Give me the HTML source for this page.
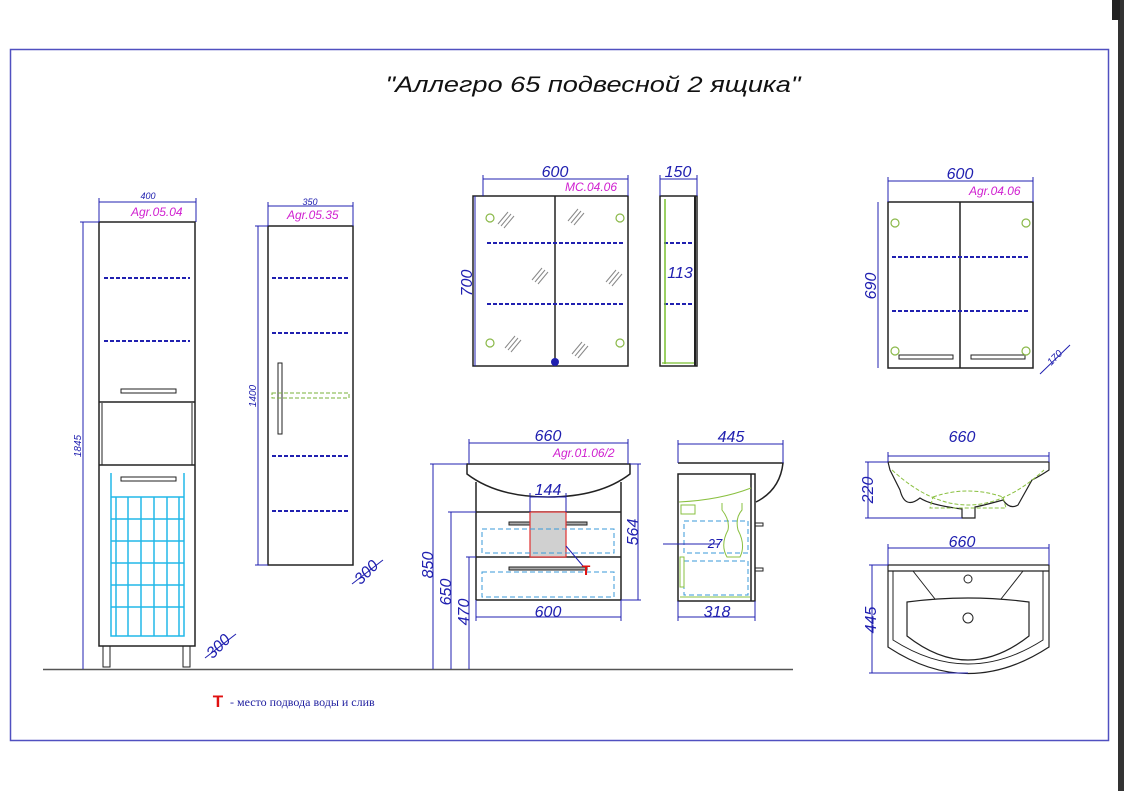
<!DOCTYPE html>
<html><head><meta charset="utf-8"><style>
html,body{margin:0;padding:0;background:#fff;}
svg{display:block;}
text{font-family:"Liberation Sans",sans-serif;font-style:italic;}
text.n{font-style:normal;}
</style></head><body>
<svg width="1124" height="791" viewBox="0 0 1124 791" xmlns="http://www.w3.org/2000/svg">
<rect x="0" y="0" width="1124" height="791" fill="#fff"/>
<rect x="1118" y="0" width="6" height="791" fill="#333"/>
<rect x="1112" y="0" width="8" height="20" fill="#222"/>
<rect x="10.5" y="49.5" width="1098" height="691" fill="none" stroke="#5050c0" stroke-width="1.5"/>
<text x="593" y="92" font-size="22" text-anchor="middle" textLength="415" lengthAdjust="spacingAndGlyphs" fill="#111">"Аллегро 65 подвесной 2 ящика"</text>

<line x1="43" y1="669.5" x2="793" y2="669.5" stroke="#555" stroke-width="1.5"/>

<g stroke="#222" stroke-width="1.5" fill="none">
<rect x="99" y="222" width="96" height="424"/>
<line x1="99" y1="402" x2="195" y2="402"/>
<line x1="99" y1="465" x2="195" y2="465"/>
<line x1="102" y1="403" x2="102" y2="465" stroke-width="1"/>
<line x1="192" y1="403" x2="192" y2="465" stroke-width="1"/>
<rect x="121" y="389" width="55" height="4" stroke-width="1"/>
<rect x="121" y="477" width="55" height="4" stroke-width="1"/>
<rect x="103" y="646" width="7" height="21" stroke-width="1"/>
<rect x="183" y="646" width="7" height="21" stroke-width="1"/>
<rect x="268" y="226" width="85" height="339"/>
<rect x="278" y="363" width="4" height="71" stroke-width="1"/>
<rect x="473" y="196" width="155" height="170"/>
<line x1="555" y1="196" x2="555" y2="366"/>
<rect x="660" y="196" width="37" height="170"/>
<line x1="695" y1="196" x2="695" y2="366" stroke-width="2"/>
<rect x="888" y="202" width="145" height="166"/>
<line x1="960" y1="202" x2="960" y2="368"/>
<rect x="899" y="355" width="54" height="4" stroke-width="1"/>
<rect x="971" y="355" width="54" height="4" stroke-width="1"/>
<path d="M467 464 H630 V474 Q600 497 548 497 Q497 497 467 474 Z"/>
<line x1="476" y1="482" x2="476" y2="600"/>
<line x1="621" y1="482" x2="621" y2="600"/>
<line x1="476" y1="512" x2="621" y2="512"/>
<line x1="476" y1="557" x2="621" y2="557"/>
<line x1="476" y1="600" x2="621" y2="600"/>
<rect x="509" y="522" width="78" height="3" stroke-width="1" fill="#aaa"/>
<rect x="509" y="567" width="78" height="3" stroke-width="1" fill="#aaa"/>
<path d="M678 463 H783 Q780 490 756 502"/>
<rect x="678" y="474" width="77" height="127"/>
<line x1="751" y1="474" x2="751" y2="601"/>
<rect x="755" y="523" width="8" height="3" stroke-width="1"/>
<rect x="755" y="568" width="8" height="3" stroke-width="1"/>
<path d="M888 462 H1049 V470 Q1040 476 1032 480 L1018 505 Q1010 510 1003 500 Q985 505 975 507 V518 H962 V509 Q930 505 920 498 Q905 510 900 490 L890 470 Z" stroke-width="1.2"/>
<path d="M888 565 H1049 V571 H888 Z M888 571 V647 Q968 700 1049 647 V571" stroke-width="1.2"/>
<path d="M893 571 V640 Q968 688 1043 640 V571" stroke-width="1"/>
<path d="M907 602 Q968 594 1029 602 V636 Q968 684 907 636 Z" stroke-width="1.2"/>
<line x1="913" y1="571" x2="935" y2="599" stroke-width="1"/>
<line x1="1023" y1="571" x2="1001" y2="599" stroke-width="1"/>
<circle cx="968" cy="579" r="4" stroke-width="1"/>
<circle cx="968" cy="618" r="5" stroke-width="1"/>
</g>

<g stroke="#22b8e8" stroke-width="1.5" fill="none">
<path d="M111 473 V636 H184 V473"/>
<line x1="111" y1="497" x2="184" y2="497"/>
<line x1="111" y1="519" x2="184" y2="519"/>
<line x1="111" y1="541" x2="184" y2="541"/>
<line x1="111" y1="563" x2="184" y2="563"/>
<line x1="111" y1="585" x2="184" y2="585"/>
<line x1="111" y1="607" x2="184" y2="607"/>
<line x1="116" y1="497" x2="116" y2="636"/>
<line x1="128" y1="497" x2="128" y2="636"/>
<line x1="141" y1="497" x2="141" y2="636"/>
<line x1="154" y1="497" x2="154" y2="636"/>
<line x1="167" y1="497" x2="167" y2="636"/>
<line x1="179" y1="497" x2="179" y2="636"/>
</g>

<g stroke="#2020b0" stroke-width="2" stroke-dasharray="4 2">
<line x1="104" y1="278" x2="190" y2="278"/>
<line x1="104" y1="341" x2="190" y2="341"/>
<line x1="272" y1="278" x2="350" y2="278"/>
<line x1="272" y1="333" x2="350" y2="333"/>
<line x1="272" y1="456" x2="350" y2="456"/>
<line x1="272" y1="511" x2="350" y2="511"/>
<line x1="487" y1="243" x2="624" y2="243"/>
<line x1="487" y1="304" x2="624" y2="304"/>
<line x1="664" y1="243" x2="693" y2="243"/>
<line x1="664" y1="304" x2="693" y2="304"/>
<line x1="892" y1="257" x2="1029" y2="257"/>
<line x1="892" y1="311" x2="1029" y2="311"/>
</g>
<rect x="272" y="393" width="77" height="5" fill="none" stroke="#7ab03a" stroke-dasharray="4 2"/>

<g stroke="#8ab848" fill="none" stroke-width="1.2">
<circle cx="490" cy="218" r="4"/><circle cx="620" cy="218" r="4"/>
<circle cx="490" cy="343" r="4"/><circle cx="620" cy="343" r="4"/>
<circle cx="895" cy="223" r="4"/><circle cx="1026" cy="223" r="4"/>
<circle cx="895" cy="351" r="4"/><circle cx="1026" cy="351" r="4"/>
<line x1="665" y1="199" x2="665" y2="364" stroke="#7ac030" stroke-width="1.5"/>
<line x1="662" y1="363" x2="694" y2="363" stroke="#7ac030"/>
</g>
<g stroke="#888" stroke-width="1">
<path d="M498 224 l10 -12 M501 226 l10 -12 M504 228 l10 -12"/>
<path d="M568 221 l10 -12 M571 223 l10 -12 M574 225 l10 -12"/>
<path d="M532 280 l10 -12 M535 282 l10 -12 M538 284 l10 -12"/>
<path d="M606 282 l10 -12 M609 284 l10 -12 M612 286 l10 -12"/>
<path d="M505 348 l10 -12 M508 350 l10 -12 M511 352 l10 -12"/>
<path d="M572 354 l10 -12 M575 356 l10 -12 M578 358 l10 -12"/>
</g>
<circle cx="555" cy="362" r="4" fill="#2020b0"/>

<rect x="530" y="512" width="36" height="45" fill="#d0d0d0" stroke="#e03030" stroke-width="1.2"/>
<g stroke="#3a9ad8" stroke-width="1" fill="none" stroke-dasharray="5 3">
<rect x="482" y="529" width="132" height="24"/>
<rect x="482" y="572" width="132" height="25"/>
<rect x="684" y="521" width="64" height="32"/>
<rect x="684" y="561" width="64" height="34"/>
</g>
<line x1="566" y1="546" x2="583" y2="566" stroke="#2020b0" stroke-width="1"/>
<text class="n" x="586" y="575" font-size="14" font-weight="bold" fill="#e01010" text-anchor="middle">T</text>
<g stroke="#8ac040" fill="none" stroke-width="1">
<path d="M679 502 Q720 500 751 488"/>
<path d="M722 503 V510 Q730 520 728 530 Q720 545 727 557 H740 Q746 545 738 530 Q735 518 742 510 V503"/>
<rect x="681" y="505" width="14" height="9"/>
<rect x="680" y="557" width="4" height="30"/>
<line x1="680" y1="597" x2="750" y2="597"/>
</g>
<g stroke="#8ac040" fill="none" stroke-width="1" stroke-dasharray="4 2">
<path d="M892 470 Q968 540 1044 470"/>
<path d="M933 497 Q968 485 1003 497 L1006 508 H930 Z"/>
</g>

<g stroke="#2020b0" stroke-width="1" fill="none">
<line x1="99" y1="202" x2="196" y2="202"/><line x1="99" y1="198" x2="99" y2="222"/><line x1="196" y1="198" x2="196" y2="222"/>
<line x1="83" y1="222" x2="83" y2="669"/><line x1="80" y1="222" x2="99" y2="222"/>
<line x1="268" y1="206" x2="353" y2="206"/><line x1="268" y1="202" x2="268" y2="226"/><line x1="353" y1="202" x2="353" y2="226"/>
<line x1="258" y1="226" x2="258" y2="565"/><line x1="255" y1="226" x2="268" y2="226"/><line x1="255" y1="565" x2="268" y2="565"/>
<line x1="205" y1="658" x2="236" y2="634"/>
<line x1="352" y1="584" x2="383" y2="560"/>
<line x1="483" y1="179" x2="628" y2="179"/><line x1="483" y1="175" x2="483" y2="196"/><line x1="628" y1="175" x2="628" y2="196"/>
<line x1="475" y1="196" x2="475" y2="366"/>
<line x1="660" y1="179" x2="697" y2="179"/><line x1="660" y1="175" x2="660" y2="196"/><line x1="697" y1="175" x2="697" y2="196"/>
<line x1="888" y1="181" x2="1033" y2="181"/><line x1="888" y1="177" x2="888" y2="202"/><line x1="1033" y1="177" x2="1033" y2="202"/>
<line x1="878" y1="202" x2="878" y2="368"/>
<line x1="1040" y1="374" x2="1070" y2="345"/>
<line x1="469" y1="443" x2="628" y2="443"/><line x1="469" y1="439" x2="469" y2="464"/><line x1="628" y1="439" x2="628" y2="464"/>
<line x1="530" y1="497" x2="566" y2="497"/><line x1="530" y1="493" x2="530" y2="512"/><line x1="566" y1="493" x2="566" y2="512"/>
<line x1="638" y1="464" x2="638" y2="600"/><line x1="630" y1="464" x2="641" y2="464"/><line x1="621" y1="600" x2="641" y2="600"/>
<line x1="476" y1="617" x2="621" y2="617"/><line x1="476" y1="600" x2="476" y2="621"/><line x1="621" y1="600" x2="621" y2="621"/>
<line x1="433" y1="464" x2="433" y2="669"/><line x1="430" y1="464" x2="467" y2="464"/>
<line x1="451" y1="512" x2="451" y2="669"/><line x1="448" y1="512" x2="476" y2="512"/>
<line x1="469" y1="557" x2="469" y2="669"/><line x1="466" y1="557" x2="476" y2="557"/>
<line x1="678" y1="444" x2="783" y2="444"/><line x1="678" y1="440" x2="678" y2="463"/><line x1="783" y1="440" x2="783" y2="463"/>
<line x1="678" y1="617" x2="755" y2="617"/><line x1="678" y1="601" x2="678" y2="621"/><line x1="755" y1="601" x2="755" y2="621"/>
<line x1="663" y1="544" x2="720" y2="544"/>
<line x1="888" y1="456" x2="1049" y2="456"/><line x1="888" y1="452" x2="888" y2="462"/><line x1="1049" y1="452" x2="1049" y2="462"/>
<line x1="868" y1="462" x2="868" y2="518"/><line x1="865" y1="462" x2="888" y2="462"/><line x1="865" y1="518" x2="962" y2="518"/>
<line x1="888" y1="548" x2="1049" y2="548"/><line x1="888" y1="544" x2="888" y2="565"/><line x1="1049" y1="544" x2="1049" y2="565"/>
<line x1="872" y1="565" x2="872" y2="673"/><line x1="869" y1="565" x2="888" y2="565"/><line x1="869" y1="673" x2="968" y2="673"/>
</g>

<g fill="#2020b0">
<text x="148" y="199" font-size="9" text-anchor="middle">400</text>
<text x="310" y="205" font-size="9" text-anchor="middle">350</text>
<text transform="translate(81 446) rotate(-90)" font-size="10" text-anchor="middle">1845</text>
<text transform="translate(256 396) rotate(-90)" font-size="10" text-anchor="middle">1400</text>
<text transform="translate(222 650) rotate(-45)" font-size="16" text-anchor="middle">300</text>
<text transform="translate(370 576) rotate(-45)" font-size="16" text-anchor="middle">300</text>
<text x="555" y="177" font-size="16" text-anchor="middle">600</text>
<text x="678" y="177" font-size="16" text-anchor="middle">150</text>
<text x="680" y="278" font-size="16" text-anchor="middle">113</text>
<text transform="translate(472 283) rotate(-90)" font-size="16" text-anchor="middle">700</text>
<text x="960" y="179" font-size="16" text-anchor="middle">600</text>
<text transform="translate(876 286) rotate(-90)" font-size="16" text-anchor="middle">690</text>
<text transform="translate(1057 360) rotate(-45)" font-size="10" text-anchor="middle">170</text>
<text x="548" y="441" font-size="16" text-anchor="middle">660</text>
<text x="548" y="495" font-size="16" text-anchor="middle">144</text>
<text transform="translate(638 532) rotate(-90)" font-size="16" text-anchor="middle">564</text>
<text x="548" y="617" font-size="16" text-anchor="middle">600</text>
<text transform="translate(433 565) rotate(-90)" font-size="16" text-anchor="middle">850</text>
<text transform="translate(451 592) rotate(-90)" font-size="16" text-anchor="middle">650</text>
<text transform="translate(469 612) rotate(-90)" font-size="16" text-anchor="middle">470</text>
<text x="731" y="442" font-size="16" text-anchor="middle">445</text>
<text x="715" y="548" font-size="13" text-anchor="middle">27</text>
<text x="717" y="617" font-size="16" text-anchor="middle">318</text>
<text x="962" y="442" font-size="16" text-anchor="middle">660</text>
<text transform="translate(873 490) rotate(-90)" font-size="16" text-anchor="middle">220</text>
<text x="962" y="547" font-size="16" text-anchor="middle">660</text>
<text transform="translate(876 620) rotate(-90)" font-size="16" text-anchor="middle">445</text>
</g>
<g fill="#d020d0" font-size="12">
<text x="131" y="216">Agr.05.04</text>
<text x="287" y="219">Agr.05.35</text>
<text x="565" y="191">MC.04.06</text>
<text x="969" y="195">Agr.04.06</text>
<text x="553" y="457">Agr.01.06/2</text>
</g>

<text class="n" x="218" y="707" font-size="17" font-weight="bold" fill="#e01010" text-anchor="middle">T</text>
<text class="n" x="230" y="706" font-size="12" fill="#2020a0" style="font-family:'Liberation Serif',serif;font-style:normal">- место подвода воды и слив</text>
</svg>
</body></html>
